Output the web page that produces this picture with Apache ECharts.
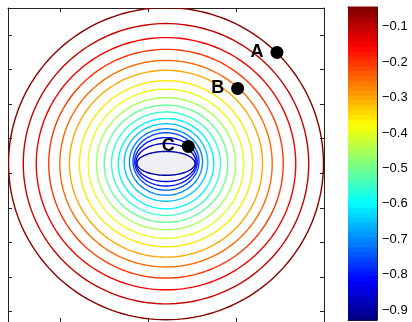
<!DOCTYPE html>
<html><head><meta charset="utf-8">
<script src="https://cdn.jsdelivr.net/npm/echarts@6/dist/echarts.min.js"></script>
<style>html,body{margin:0;padding:0;background:#fff}#c{width:412px;height:322px}</style>
</head><body><div id="c"></div>
<script>
// contour levels (outer -> inner), ellipse semi-axes and centre heights (data units)
const levels  = [-0.05,-0.10,-0.15,-0.20,-0.25,-0.30,-0.35,-0.40,-0.45,-0.50,-0.55,-0.60,-0.65,-0.70,-0.75,-0.80,-0.85,-0.90];
const semiA   = [0.897,0.813,0.739,0.668,0.605,0.550,0.493,0.443,0.396,0.352,0.310,0.272,0.238,0.208,0.188,0.178,0.171,0.165];
const semiB   = [0.902,0.810,0.729,0.661,0.597,0.540,0.480,0.431,0.382,0.339,0.299,0.261,0.224,0.192,0.166,0.140,0.110,0.069];
const centerY = [0.055,0.055,0.055,0.055,0.055,0.055,0.055,0.055,0.055,0.055,0.055,0.055,0.062,0.065,0.068,0.066,0.062,0.057];
const centerX = 0.1;
const pointNames = ['A','B','C'];
const pointX = [0.732, 0.508, 0.227];
const pointY = [0.698, 0.490, 0.155];
const xTicks = [-0.5, 0, 0.5, 1.0];
const yTicks = [-0.8,-0.6,-0.4,-0.2,0,0.2,0.4,0.6,0.8];
const cbTicks = [-0.9,-0.8,-0.7,-0.6,-0.5,-0.4,-0.3,-0.2,-0.1];
const cMin = -0.928, cMax = -0.044;

function clamp(v){return Math.max(0,Math.min(1,v));}
function jet(t){
  const r=clamp(1.5-Math.abs(4*t-3)), g=clamp(1.5-Math.abs(4*t-2)), b=clamp(1.5-Math.abs(4*t-1));
  return 'rgb('+Math.round(r*255)+','+Math.round(g*255)+','+Math.round(b*255)+')';
}
function levelColor(v){
  let i=Math.floor((v-cMin)/(cMax-cMin)*64); i=Math.max(0,Math.min(63,i));
  return jet((i+0.5)/64);
}
const nBands = 64;
const bandIdx = Array.from({length:nBands},(_,i)=>[i]);

const chart = echarts.init(document.getElementById('c'), null, {renderer:'canvas'});
const axisCommon = {
  axisLine:{show:true,onZero:false,lineStyle:{color:'#222',width:1}},
  axisTick:{show:true,inside:true,length:4,lineStyle:{color:'#222'}},
  axisLabel:{show:false}, splitLine:{show:false}
};
chart.setOption({
  animation:false,
  backgroundColor:'#fff',
  grid:[
    {left:8, top:8, width:316, height:316},
    {left:348, top:7, width:29, height:313}
  ],
  xAxis:[
    Object.assign({type:'value',gridIndex:0,min:-0.8,max:1.0,position:'bottom'},axisCommon,{axisTick:Object.assign({},axisCommon.axisTick,{customValues:xTicks})}),
    Object.assign({type:'value',gridIndex:0,min:-0.8,max:1.0,position:'top'},axisCommon,{axisTick:Object.assign({},axisCommon.axisTick,{customValues:xTicks})}),
    {type:'value',gridIndex:1,min:0,max:1,show:true,position:'bottom',axisLine:{show:true,lineStyle:{color:'#222'}},axisTick:{show:false},axisLabel:{show:false},splitLine:{show:false}},
    {type:'value',gridIndex:1,min:0,max:1,show:true,position:'top',axisLine:{show:true,lineStyle:{color:'#222'}},axisTick:{show:false},axisLabel:{show:false},splitLine:{show:false}}
  ],
  yAxis:[
    Object.assign({type:'value',gridIndex:0,min:-0.86,max:0.955,position:'left'},axisCommon,{axisTick:Object.assign({},axisCommon.axisTick,{customValues:yTicks})}),
    Object.assign({type:'value',gridIndex:0,min:-0.86,max:0.955,position:'right'},axisCommon,{axisTick:Object.assign({},axisCommon.axisTick,{customValues:yTicks})}),
    {type:'value',gridIndex:1,min:cMin,max:cMax,position:'right',
      axisLine:{show:true,onZero:false,lineStyle:{color:'#222'}},
      axisTick:{show:true,inside:true,length:3,customValues:cbTicks,lineStyle:{color:'#222'}},
      axisLabel:{show:true,customValues:cbTicks,margin:5,color:'#000',fontSize:13,fontFamily:'Liberation Sans, Arial, sans-serif',
        formatter:v=>'\u2212'+Math.abs(v).toFixed(1)},
      splitLine:{show:false}},
    {type:'value',gridIndex:1,min:cMin,max:cMax,position:'left',
      axisLine:{show:true,onZero:false,lineStyle:{color:'#222'}},
      axisTick:{show:true,inside:true,length:3,customValues:cbTicks,lineStyle:{color:'#222'}},
      axisLabel:{show:false},splitLine:{show:false}}
  ],
  series:[
    {type:'custom', xAxisIndex:0, yAxisIndex:0, clip:true, z:2,
      data: levels.map((v,i)=>[i]),
      renderItem:function(params, api){
        const i = api.value(0);
        const a = semiA[i], b = semiB[i], cy = centerY[i];
        const pts = [];
        for(let k=0;k<180;k++){
          const t = k/180*Math.PI*2;
          pts.push(api.coord([centerX + a*Math.cos(t), cy + b*Math.sin(t)]));
        }
        const last = i === levels.length-1;
        return {type:'polygon', shape:{points:pts},
          style:{fill: last ? '#efeff6' : 'none', stroke: levelColor(levels[i]), lineWidth:1.4}};
      }
    },
    {type:'scatter', xAxisIndex:0, yAxisIndex:0, z:5,
      data: pointNames.map((n,i)=>({name:n, value:[pointX[i], pointY[i]]})),
      symbolSize:13, itemStyle:{color:'#000', opacity:1},
      label:{show:true, position:'left', distance:7, formatter:'{b}', color:'#000', opacity:1,
        fontSize:18, fontWeight:'bold', fontFamily:'Liberation Sans, Arial, sans-serif'}
    },
    {type:'custom', xAxisIndex:2, yAxisIndex:2, z:1,
      data: bandIdx,
      renderItem:function(params, api){
        const i = api.value(0);
        const v0 = cMin + i*(cMax-cMin)/nBands, v1 = cMin + (i+1)*(cMax-cMin)/nBands;
        const p0 = api.coord([0, v0]), p1 = api.coord([1, v1]);
        return {type:'rect', shape:{x:p0[0], y:p1[1]-0.5, width:p1[0]-p0[0], height:p0[1]-p1[1]+1},
          style:{fill: jet((i+0.5)/nBands)}};
      }
    }
  ]
});
</script></body></html>
